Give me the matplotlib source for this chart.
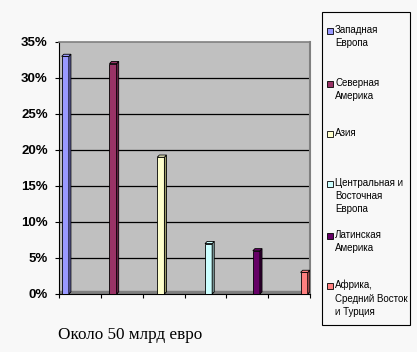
import numpy as np
import matplotlib.pyplot as plt
from matplotlib.patches import Rectangle
from matplotlib.ticker import FuncFormatter

# ── data ────────────────────────────────────────────────
regions = [
    "Западная\nЕвропа",
    "Северная\nАмерика",
    "Азия",
    "Центральная и\nВосточная\nЕвропа",
    "Латинская\nАмерика",
    "Африка,\nСредний Восток\nи Турция",
]
shares = [33, 32, 19, 7, 6, 3]
colors = ["#9999FF", "#993366", "#FFFFCC", "#CCFFFF", "#660066", "#FF8080"]
side_colors = ["#6666B0", "#661F44", "#999966", "#88AAAA", "#3A003A", "#B05050"]
yticks = [0, 5, 10, 15, 20, 25, 30, 35]
caption = "Около 50 млрд евро"

bg = "#F8F8F8"
fig = plt.figure(figsize=(4.17, 3.52), dpi=100, facecolor=bg)
ax = fig.add_axes([59 / 417, 1 - 294 / 352, 251 / 417, 252 / 352])
ax.set_facecolor("#C0C0C0")

# Excel-style clustered series: each series sits in its own category,
# shifted by its series index inside the cluster
n = len(shares)
w = 0.17
x = np.arange(n) + 0.15 + 0.142 * np.arange(n)
dx, dy = 0.05, 0.3

ax.bar(x, shares, width=w, color=colors, edgecolor="black", linewidth=0.6, zorder=3)
for xi, v, c, sc in zip(x, shares, colors, side_colors):
    l, r = xi - w / 2, xi + w / 2
    ax.fill([r, r + dx, r + dx, r], [0, dy, v + dy, v], color=sc,
            edgecolor="black", linewidth=0.6, zorder=3)
    ax.fill([l, l + dx, r + dx, r], [v, v + dy, v + dy, v], color=c,
            edgecolor="black", linewidth=0.6, zorder=3)

ax.set_xlim(0, n)
ax.set_ylim(0, 35)
ax.set_xticks(np.arange(n + 1))
ax.set_xticklabels([])
ax.set_yticks(yticks)
ax.yaxis.set_major_formatter(FuncFormatter(lambda v, p: f"{v:.0f}%"))
ax.tick_params(axis="y", length=3, width=0.8, pad=5, labelsize=9.5)
ax.tick_params(axis="x", length=3, width=0.8)
for lab in ax.get_yticklabels():
    lab.set_fontweight("bold")
    lab.set_family("Liberation Sans")

for y in yticks[1:-1]:
    ax.axhline(y, color="black", linewidth=0.9, zorder=1)
ax.axhspan(0, 0.35, color="#808080", zorder=2)

ax.spines["left"].set_color("black")
ax.spines["bottom"].set_color("black")
ax.spines["top"].set_color("#808080")
ax.spines["right"].set_color("#808080")
ax.spines["top"].set_linewidth(1.2)
ax.spines["right"].set_linewidth(1.5)

# ── legend (drawn by hand, Excel spacing) ───────────────
W, H = 417, 352
fig.add_artist(Rectangle((322 / W, 1 - 325 / H), 88 / W, 313 / H,
                         transform=fig.transFigure, facecolor=bg,
                         edgecolor="black", linewidth=0.8))
tops = [25, 78, 128, 178, 230, 280]
for top, lab, c in zip(tops, regions, colors):
    fig.add_artist(Rectangle((327 / W, 1 - (top + 9) / H), 6 / W, 6 / H,
                             transform=fig.transFigure, facecolor=c,
                             edgecolor="black", linewidth=0.6))
    fig.text(335 / W, 1 - top / H, lab, ha="left", va="top", fontsize=7,
             family="Liberation Sans", linespacing=1.4)

fig.text(58 / W, 1 - 339 / H, caption, ha="left", va="baseline",
         fontsize=12.3, family="Liberation Serif")

fig.savefig("out.png", dpi=100, facecolor=bg)
